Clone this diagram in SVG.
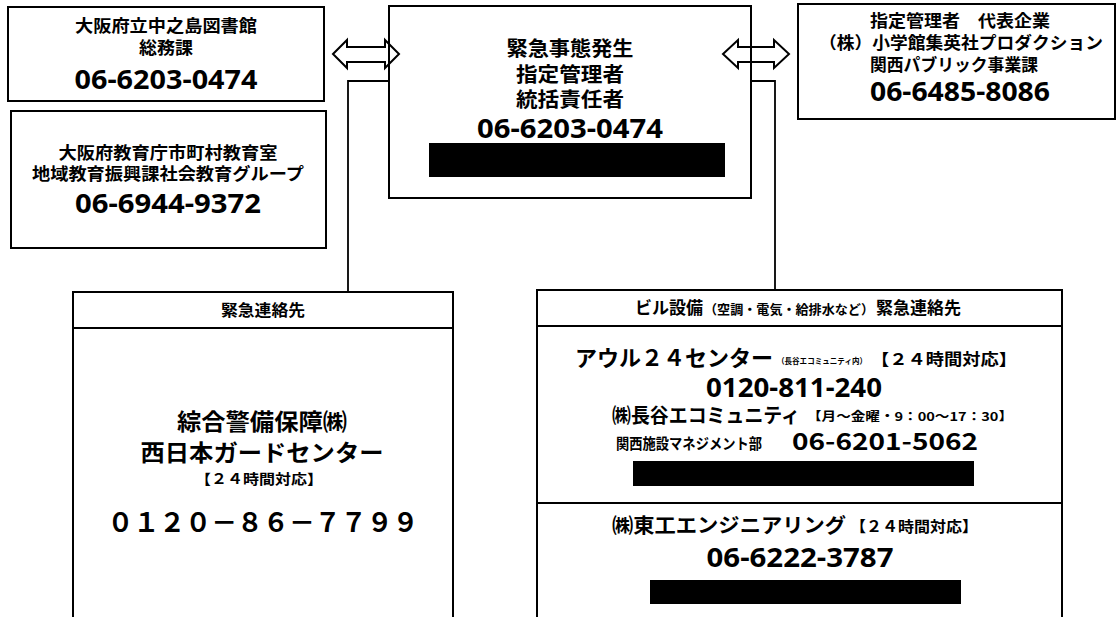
<svg xmlns="http://www.w3.org/2000/svg" width="1117" height="617" viewBox="0 0 1117 617">
<style>
  .box { fill: #fff; stroke: #000; stroke-width: 2; }
  .div { stroke: #000; stroke-width: 2; fill: none; }
  .con { stroke: #000; stroke-width: 1.8; fill: none; }
  .arrow { fill: none; stroke: #000; stroke-width: 2; stroke-linejoin: miter; }
  .red { fill: #000; }
  text { font-family: "Noto Sans CJK JP", "Noto Sans", sans-serif; font-weight: bold; fill: #000; }
  .c { text-anchor: middle; }
  .t18 { font-size: 17px; }
  .t21 { font-size: 20px; }
  .num { font-size: 26px; font-family: "Noto Sans", "Noto Sans CJK JP", sans-serif; }
</style>
<rect width="1117" height="617" fill="#fff"/>

<g id="node-library">
  <rect class="box" x="8" y="7" width="316" height="94"/>
  <text class="c t18" x="166" y="32" textLength="182" lengthAdjust="spacingAndGlyphs">大阪府立中之島図書館</text>
  <text class="c t18" x="166" y="54" textLength="54" lengthAdjust="spacingAndGlyphs">総務課</text>
  <text class="c num" x="166" y="89" textLength="183" lengthAdjust="spacingAndGlyphs">06-6203-0474</text>
</g>

<g id="node-board">
  <rect class="box" x="11" y="111" width="315" height="137"/>
  <text class="c t18" x="168" y="159" textLength="219" lengthAdjust="spacingAndGlyphs">大阪府教育庁市町村教育室</text>
  <text class="c t18" x="168" y="180" textLength="272" lengthAdjust="spacingAndGlyphs">地域教育振興課社会教育グループ</text>
  <text class="c num" x="168" y="213" textLength="186" lengthAdjust="spacingAndGlyphs">06-6944-9372</text>
</g>

<g id="node-center">
  <rect class="box" x="389" y="6" width="362" height="192"/>
  <text class="c t21" x="570" y="56" textLength="127" lengthAdjust="spacingAndGlyphs">緊急事態発生</text>
  <text class="c t21" x="570" y="82" textLength="108" lengthAdjust="spacingAndGlyphs">指定管理者</text>
  <text class="c t21" x="570" y="107" textLength="108" lengthAdjust="spacingAndGlyphs">統括責任者</text>
  <text class="c num" x="570" y="138" font-size="28" textLength="186" lengthAdjust="spacingAndGlyphs">06-6203-0474</text>
  <rect class="red" x="429" y="143" width="296" height="34"/>
</g>

<g id="node-company">
  <rect class="box" x="798" y="4" width="317" height="115"/>
  <text class="c t18" x="960" y="27" textLength="180" lengthAdjust="spacingAndGlyphs">指定管理者　代表企業</text>
  <text class="c t18" x="961" y="49" textLength="284" lengthAdjust="spacingAndGlyphs">（株）小学館集英社プロダクション</text>
  <text class="c t18" x="954" y="71" textLength="168" lengthAdjust="spacingAndGlyphs">関西パブリック事業課</text>
  <text class="c num" x="960" y="101" textLength="180" lengthAdjust="spacingAndGlyphs">06-6485-8086</text>
</g>

<g id="node-security">
  <rect class="box" x="73" y="292" width="380" height="335"/>
  <line class="div" x1="73" y1="328" x2="453" y2="328"/>
  <text class="c" x="263" y="316" font-size="16" textLength="84" lengthAdjust="spacingAndGlyphs">緊急連絡先</text>
  <text class="c" x="262" y="430" font-size="23" textLength="170" lengthAdjust="spacingAndGlyphs">綜合警備保障㈱</text>
  <text class="c" x="262" y="461" font-size="23" textLength="243" lengthAdjust="spacingAndGlyphs">西日本ガードセンター</text>
  <text class="c" x="259" y="484" font-size="14" textLength="128" lengthAdjust="spacingAndGlyphs">【２４時間対応】</text>
  <text class="c" x="263" y="532" font-size="26" textLength="311" lengthAdjust="spacingAndGlyphs">０１２０－８６－７７９９</text>
</g>

<g id="node-building">
  <rect class="box" x="537" y="290" width="525" height="337"/>
  <line class="div" x1="537" y1="326" x2="1062" y2="326"/>
  <line class="div" x1="537" y1="503" x2="1062" y2="503"/>
  <text x="635" y="314" font-size="17" textLength="68" lengthAdjust="spacingAndGlyphs">ビル設備</text>
  <text x="704" y="314" font-size="13" textLength="170" lengthAdjust="spacingAndGlyphs">（空調・電気・給排水など）</text>
  <text x="876" y="314" font-size="17" textLength="85" lengthAdjust="spacingAndGlyphs">緊急連絡先</text>

  <text x="575" y="366" font-size="22" textLength="198" lengthAdjust="spacingAndGlyphs">アウル２４センター</text>
  <text x="777" y="364" font-size="8" textLength="90" lengthAdjust="spacingAndGlyphs">（長谷エコミュニティ内）</text>
  <text x="871" y="365" font-size="16" textLength="146" lengthAdjust="spacingAndGlyphs">【２４時間対応】</text>
  <text class="c num" x="794" y="397" textLength="176" lengthAdjust="spacingAndGlyphs">0120-811-240</text>
  <text x="612" y="423" font-size="20" textLength="188" lengthAdjust="spacingAndGlyphs">㈱長谷エコミュニティ</text>
  <text x="807" y="421" font-size="12" textLength="206" lengthAdjust="spacingAndGlyphs">【月～金曜・9：00～17：30】</text>
  <text x="616" y="449" font-size="15" textLength="146" lengthAdjust="spacingAndGlyphs">関西施設マネジメント部</text>
  <text x="792" y="450" font-size="23" font-family="Noto Sans, sans-serif" textLength="186" lengthAdjust="spacingAndGlyphs">06-6201-5062</text>
  <rect class="red" x="633" y="461" width="341" height="25"/>

  <text x="612" y="533" font-size="20" textLength="234" lengthAdjust="spacingAndGlyphs">㈱東工エンジニアリング</text>
  <text x="850" y="532" font-size="15" textLength="128" lengthAdjust="spacingAndGlyphs">【２４時間対応】</text>
  <text class="c num" x="800" y="567" textLength="187" lengthAdjust="spacingAndGlyphs">06-6222-3787</text>
  <rect class="red" x="650" y="580" width="311" height="24"/>
</g>

<g id="connectors">
  <path class="con" d="M389,81 H348 V292"/>
  <path class="con" d="M751,81 H775 V290"/>
  <path class="arrow" d="M333,54 L347,40 V47 H385 V40 L399,54 L385,68 V62 H347 V68 Z"/>
  <path class="arrow" d="M723,54 L738,40 V47 H774 V40 L789,54 L774,68 V62 H738 V68 Z"/>
</g>
</svg>
